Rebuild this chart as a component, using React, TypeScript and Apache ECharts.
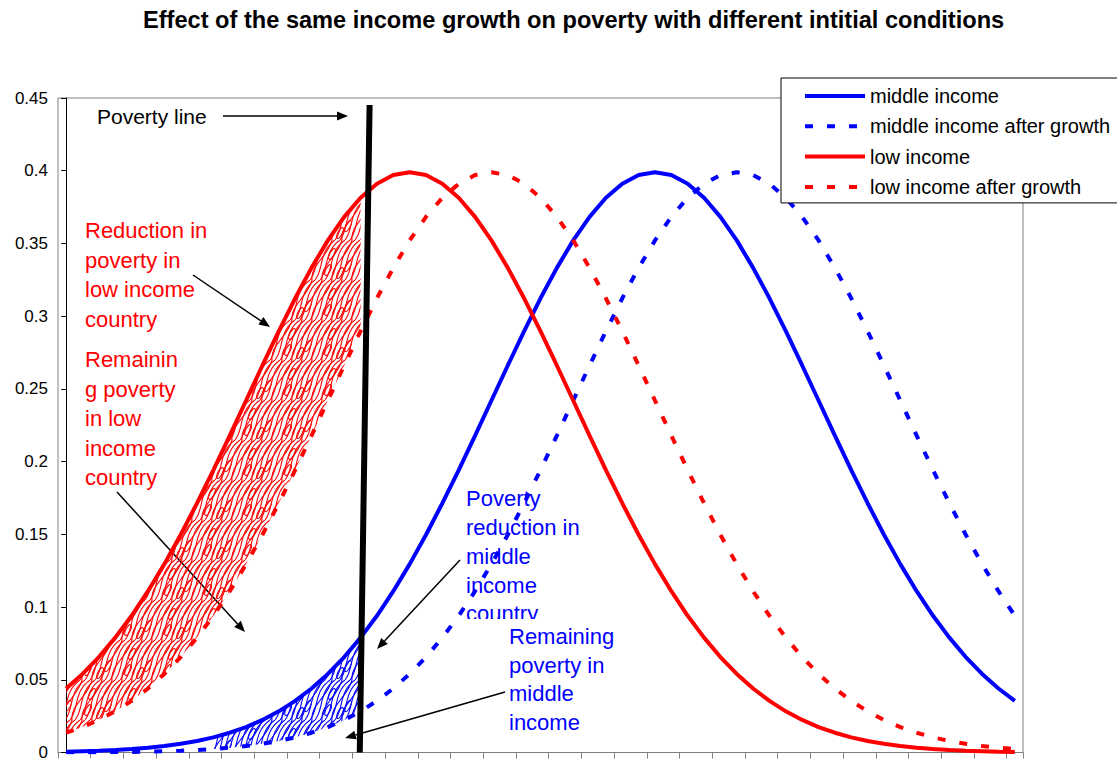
import React, { useEffect, useRef } from 'react';
import * as echarts from 'echarts';

// ---------- data ----------
const categories = [
  '1','2','3','4','5','6','7','8','9','10','11','12','13','14','15','16','17','18','19','20',
  '21','22','23','24','25','26','27','28','29','30','31','32','33','34','35','36','37','38','39','40',
  '41','42','43','44','45','46','47','48','49','50','51','52','53','54','55','56','57','58','59'
];

const middleIncome = [
  0.0006,0.0009,0.0012,0.0017,0.0024,0.0033,0.0044,0.0060,0.0079,0.0104,
  0.0136,0.0175,0.0224,0.0283,0.0355,0.0440,0.0540,0.0656,0.0790,0.0940,
  0.1109,0.1295,0.1497,0.1714,0.1942,0.2179,0.2420,0.2661,0.2897,0.3123,
  0.3332,0.3521,0.3683,0.3814,0.3910,0.3970,0.3989,0.3970,0.3910,0.3814,
  0.3683,0.3521,0.3332,0.3123,0.2897,0.2661,0.2420,0.2179,0.1942,0.1714,
  0.1497,0.1295,0.1109,0.0940,0.0790,0.0656,0.0540,0.0440,0.0355
];

const middleIncomeAfter = [
  0.0001,0.0001,0.0002,0.0003,0.0004,0.0006,0.0009,0.0012,0.0017,0.0024,
  0.0033,0.0044,0.0060,0.0079,0.0104,0.0136,0.0175,0.0224,0.0283,0.0355,
  0.0440,0.0540,0.0656,0.0790,0.0940,0.1109,0.1295,0.1497,0.1714,0.1942,
  0.2179,0.2420,0.2661,0.2897,0.3123,0.3332,0.3521,0.3683,0.3814,0.3910,
  0.3970,0.3989,0.3970,0.3910,0.3814,0.3683,0.3521,0.3332,0.3123,0.2897,
  0.2661,0.2420,0.2179,0.1942,0.1714,0.1497,0.1295,0.1109,0.0940
];

const lowIncome = [
  0.0440,0.0540,0.0656,0.0790,0.0940,0.1109,0.1295,0.1497,0.1714,0.1942,
  0.2179,0.2420,0.2661,0.2897,0.3123,0.3332,0.3521,0.3683,0.3814,0.3910,
  0.3970,0.3989,0.3970,0.3910,0.3814,0.3683,0.3521,0.3332,0.3123,0.2897,
  0.2661,0.2420,0.2179,0.1942,0.1714,0.1497,0.1295,0.1109,0.0940,0.0790,
  0.0656,0.0540,0.0440,0.0355,0.0283,0.0224,0.0175,0.0136,0.0104,0.0079,
  0.0060,0.0044,0.0033,0.0024,0.0017,0.0012,0.0009,0.0006,0.0004
];

const lowIncomeAfter = [
  0.0136,0.0175,0.0224,0.0283,0.0355,0.0440,0.0540,0.0656,0.0790,0.0940,
  0.1109,0.1295,0.1497,0.1714,0.1942,0.2179,0.2420,0.2661,0.2897,0.3123,
  0.3332,0.3521,0.3683,0.3814,0.3910,0.3970,0.3989,0.3970,0.3910,0.3814,
  0.3683,0.3521,0.3332,0.3123,0.2897,0.2661,0.2420,0.2179,0.1942,0.1714,
  0.1497,0.1295,0.1109,0.0940,0.0790,0.0656,0.0540,0.0440,0.0355,0.0283,
  0.0224,0.0175,0.0136,0.0104,0.0079,0.0060,0.0044,0.0033,0.0024
];

// poverty line drawn on a hidden value axis aligned with category index
const povertyLine = [[17.95, 0], [18.55, 0.4452]];
const POVERTY_IDX = 18;
const BLUE_SHADE_START = 9;

const seriesNames = ['middle income', 'middle income after growth', 'low income', 'low income after growth'];

const Y_MIN = 0;
const Y_MAX = 0.45;
const Y_STEP = 0.05;

const TITLE = 'Effect of the same income growth on poverty with different intitial conditions';

// ---------- helpers ----------
const FONT = '"Liberation Sans", Arial, Helvetica, sans-serif';

function makeScribble(color: string) {
  const c = document.createElement('canvas');
  c.width = 40;
  c.height = 40;
  const ctx = c.getContext('2d')!;
  ctx.strokeStyle = color;
  ctx.lineWidth = 1.1;
  for (let k = -5; k <= 9; k++) {
    const x0 = k * 5;
    ctx.beginPath();
    ctx.moveTo(x0, 40);
    ctx.bezierCurveTo(x0 + 9, 30, x0 + 3, 12, x0 + 20, 0);
    ctx.stroke();
  }
  for (let k = -3; k <= 5; k++) {
    const x0 = k * 10 + 2;
    ctx.beginPath();
    ctx.moveTo(x0, 40);
    ctx.bezierCurveTo(x0 - 2, 26, x0 + 16, 16, x0 + 20, 0);
    ctx.stroke();
  }
  const loops = [[12, 14], [28, 26], [20, 33], [8, 30]];
  loops.forEach(([cx, cy]) => {
    ctx.beginPath();
    ctx.ellipse(cx, cy, 6, 2.2, -1.1, 0, Math.PI * 2);
    ctx.stroke();
  });
  return { image: c, repeat: 'repeat', imageWidth: 40, imageHeight: 40 };
}

function arrow(x1: number, y1: number, x2: number, y2: number) {
  const dx = x2 - x1, dy = y2 - y1;
  const L = Math.hypot(dx, dy);
  const ux = dx / L, uy = dy / L;
  const hl = 11, hw = 4.5;
  const bx = x2 - ux * hl, by = y2 - uy * hl;
  return [
    { type: 'line', shape: { x1, y1, x2: bx, y2: by }, style: { stroke: '#000', lineWidth: 1.5 } },
    {
      type: 'polygon',
      shape: { points: [[x2, y2], [bx - uy * hw, by + ux * hw], [bx + uy * hw, by - ux * hw]] },
      style: { fill: '#000' },
    },
  ];
}

function textBlock(text: string, x: number, y: number, color: string, lh: number) {
  return {
    type: 'text',
    x,
    y,
    style: {
      text,
      fill: color,
      font: `22px ${FONT}`,
      lineHeight: lh,
      verticalAlign: 'top',
      align: 'left',
    },
  };
}

export default function App() {
  const ref = useRef<HTMLDivElement>(null);

  useEffect(() => {
    if (!ref.current) return;
    const chart = echarts.init(ref.current, null, { renderer: 'svg' });

    const redBase = lowIncomeAfter.map((v, i) => (i <= POVERTY_IDX ? v : '-'));
    const redFill = lowIncome.map((v, i) => (i <= POVERTY_IDX ? +(v - lowIncomeAfter[i]).toFixed(4) : '-'));
    const blueBase = middleIncomeAfter.map((v, i) => (i >= BLUE_SHADE_START && i <= POVERTY_IDX ? v : '-'));
    const blueFill = middleIncome.map((v, i) =>
      i >= BLUE_SHADE_START && i <= POVERTY_IDX ? +(v - middleIncomeAfter[i]).toFixed(4) : '-'
    );

    const redPattern = makeScribble('#ff0000');
    const bluePattern = makeScribble('#0000ff');

    const dash = [8, 14];

    const graphics: any[] = [
      { type: 'text', x: 97, y: 116, style: { text: 'Poverty line', fill: '#000', font: `21px ${FONT}`, verticalAlign: 'middle' } },
      ...arrow(223, 116, 348, 116),
      textBlock('Reduction in\npoverty in\nlow income\ncountry', 85, 216, '#ff0000', 29.5),
      ...arrow(193, 275, 270, 327),
      textBlock('Remainin\ng poverty\nin low\nincome\ncountry', 85, 345, '#ff0000', 29.5),
      ...arrow(117, 492, 245, 632),
      textBlock('Poverty\nreduction in\nmiddle\nincome', 466, 484, '#0000ff', 29),
      { type: 'text', x: 466, y: 613, style: { text: 'country', fill: '#0000ff', font: `22px ${FONT}`, verticalAlign: 'middle' } },
      { type: 'rect', shape: { x: 460, y: 619, width: 100, height: 14 }, style: { fill: '#fff' } },
      ...arrow(460, 560, 377, 649),
      textBlock('Remaining\npoverty in\nmiddle\nincome', 509, 622, '#0000ff', 28.7),
      ...arrow(505, 692, 345, 738),
    ];

    chart.setOption({
      animation: false,
      backgroundColor: '#fff',
      title: {
        text: TITLE,
        left: 143,
        top: 8,
        padding: 0,
        textStyle: { fontSize: 23.6, fontWeight: 'bold', fontFamily: FONT, color: '#000' },
      },
      legend: {
        data: seriesNames,
        orient: 'vertical',
        left: 781,
        top: 78,
        padding: [8, 60, 6, 22],
        itemWidth: 60,
        itemHeight: 20,
        itemGap: 10.3,
        backgroundColor: '#fff',
        borderColor: '#000',
        borderWidth: 1,
        itemStyle: { opacity: 0 },
        lineStyle: { width: 4 },
        textStyle: { fontSize: 20, fontFamily: FONT, color: '#000' },
      },
      grid: {
        left: 58,
        right: 94,
        top: 98,
        bottom: 6,
        show: true,
        borderColor: '#808080',
        borderWidth: 1,
        backgroundColor: 'transparent',
      },
      xAxis: [
        {
          type: 'category',
          data: categories,
          boundaryGap: true,
          axisLine: { show: true, lineStyle: { color: '#808080', width: 1 } },
          axisTick: { show: true, length: 6, lineStyle: { color: '#808080' } },
          axisLabel: { show: false },
          splitLine: { show: false },
        },
        { type: 'value', min: -0.5, max: 58.5, show: false },
      ],
      yAxis: {
        type: 'value',
        min: Y_MIN,
        max: Y_MAX,
        interval: Y_STEP,
        axisLine: { show: true, lineStyle: { color: '#000', width: 1 } },
        axisTick: { show: true, length: 5, lineStyle: { color: '#000' } },
        axisLabel: { fontSize: 17, color: '#000', fontFamily: FONT, margin: 10 },
        splitLine: { show: false },
      },
      graphic: graphics,
      series: [
        {
          name: 'red band base', type: 'line', stack: 'red', data: redBase, symbol: 'none',
          lineStyle: { opacity: 0 }, silent: true, z: 1,
        },
        {
          name: 'red band', type: 'line', stack: 'red', data: redFill, symbol: 'none',
          lineStyle: { opacity: 0 }, areaStyle: { color: redPattern, opacity: 1 }, silent: true, z: 1,
        },
        {
          name: 'blue band base', type: 'line', stack: 'blue', data: blueBase, symbol: 'none',
          lineStyle: { opacity: 0 }, silent: true, z: 1,
        },
        {
          name: 'blue band', type: 'line', stack: 'blue', data: blueFill, symbol: 'none',
          lineStyle: { opacity: 0 }, areaStyle: { color: bluePattern, opacity: 1 }, silent: true, z: 1,
        },
        {
          name: seriesNames[0], type: 'line', data: middleIncome, symbol: 'none', z: 2,
          itemStyle: { color: '#0000ff' }, lineStyle: { color: '#0000ff', width: 4 },
        },
        {
          name: seriesNames[1], type: 'line', data: middleIncomeAfter, symbol: 'none', z: 2,
          itemStyle: { color: '#0000ff' }, lineStyle: { color: '#0000ff', width: 4, type: dash },
        },
        {
          name: seriesNames[2], type: 'line', data: lowIncome, symbol: 'none', z: 2,
          itemStyle: { color: '#ff0000' }, lineStyle: { color: '#ff0000', width: 4 },
        },
        {
          name: seriesNames[3], type: 'line', data: lowIncomeAfter, symbol: 'none', z: 2,
          itemStyle: { color: '#ff0000' }, lineStyle: { color: '#ff0000', width: 4, type: dash },
        },
        {
          name: 'Poverty line', type: 'line', xAxisIndex: 1, data: povertyLine, symbol: 'none', z: 3,
          lineStyle: { color: '#000', width: 6 }, silent: true,
        },
      ],
    });

    return () => chart.dispose();
  }, []);

  return <div ref={ref} style={{ position: 'fixed', left: 0, top: 0, width: 1117, height: 761 }} />;
}
